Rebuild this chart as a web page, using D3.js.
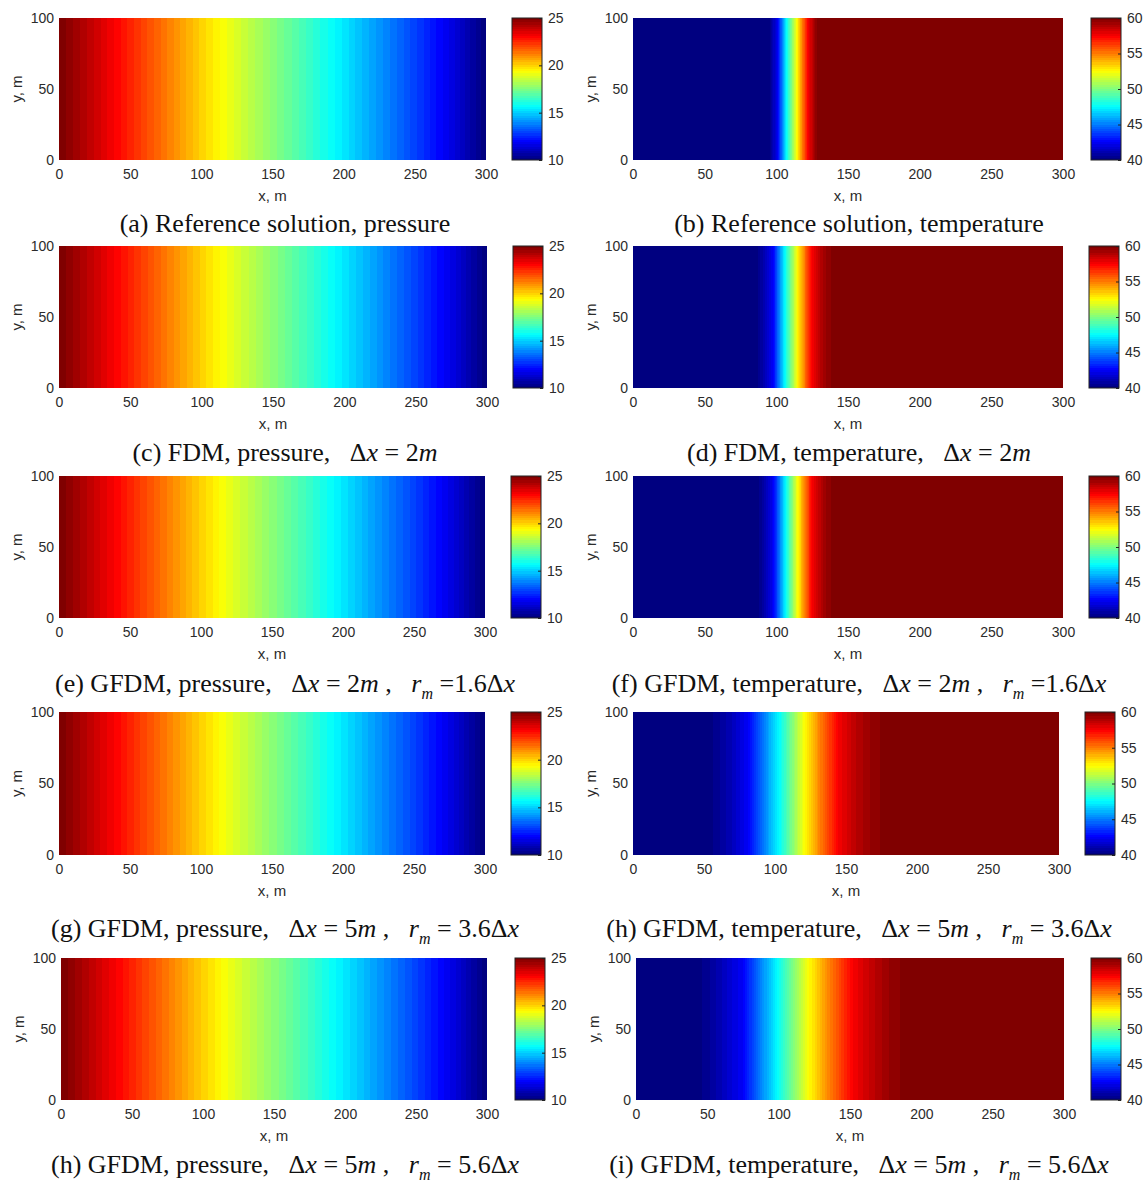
<!DOCTYPE html>
<html>
<head>
<meta charset="utf-8">
<script src="https://cdn.jsdelivr.net/npm/d3@7"></script>
<style>
  body { margin: 0; background: #fff; }
  svg { display: block; }
</style>
</head>
<body>
<div id="container"></div>
<script>
// Velikost obrazku
const width = 1146;
const height = 1182;

// Popisky os
const xTicks = [0, 50, 100, 150, 200, 250, 300];
const yTicks = [0, 50, 100];
const pressureTicks = [10, 15, 20, 25];
const temperatureTicks = [40, 45, 50, 55, 60];
const pressureRange = [10, 25];
const temperatureRange = [40, 60];

// Tlak - profil podel x (vsechny panely vypadaji stejne)
const pressureX = [0, 25, 50, 75, 100, 125, 150, 175, 200, 225, 250, 275, 300];
const pressureRef  = [25, 23.8, 22.56, 21.3, 20.0, 18.8, 17.65, 16.5, 15.33, 14.1, 12.9, 11.6, 10];
const pressureFDM  = [25, 23.8, 22.56, 21.3, 20.0, 18.8, 17.65, 16.5, 15.33, 14.1, 12.9, 11.6, 10];
const pressureG16  = [25, 23.8, 22.56, 21.3, 20.0, 18.8, 17.65, 16.5, 15.33, 14.1, 12.9, 11.6, 10];
const pressureG36  = [25, 23.8, 22.56, 21.3, 20.0, 18.8, 17.65, 16.5, 15.33, 14.1, 12.9, 11.6, 10];
const pressureG56  = [25, 23.8, 22.56, 21.3, 20.0, 18.8, 17.65, 16.5, 15.33, 14.1, 12.9, 11.6, 10];

// Teplota - profil podel x (celo teplotni fronty)
const tempRefX = [0, 95, 101, 107, 114.5, 122, 129, 300];
const tempRef  = [40, 40, 42.5, 47.5, 52.5, 57.5, 60, 60];
const tempFDMX = [0, 85, 91, 97.7, 106, 114.7, 124.7, 133, 142, 300];
const tempFDM  = [40, 40, 41, 42.5, 47.5, 52.5, 57.5, 59.2, 60, 60];
const tempG16X = [0, 86, 92, 98, 106.5, 115, 125, 133, 142, 300];
const tempG16  = [40, 40, 41, 42.5, 47.5, 52.5, 57.5, 59.2, 60, 60];
const tempG36X = [0, 50, 60, 70, 81, 92, 103, 112, 121, 132, 144.5, 155, 167, 181, 300];
const tempG36  = [40, 40, 40.5, 41.3, 42.5, 45, 47.5, 50, 52.5, 55, 57.5, 58.6, 59.4, 60, 60];
const tempG56X = [0, 40, 50, 62, 75, 87, 99, 110, 121.5, 136, 152, 165, 178, 192, 300];
const tempG56  = [40, 40, 40.5, 41.4, 42.5, 45, 47.5, 50, 52.5, 55, 57.5, 58.6, 59.4, 60, 60];

// Popisky panelu ("i" = kurziva, "sub" = dolni index)
const captions = [
  [["(a) Reference solution, pressure"]],
  [["(b) Reference solution, temperature"]],
  [["(c) FDM, pressure,   Δ"], ["x", "i"], [" = 2"], ["m", "i"]],
  [["(d) FDM, temperature,   Δ"], ["x", "i"], [" = 2"], ["m", "i"]],
  [["(e) GFDM, pressure,   Δ"], ["x", "i"], [" = 2"], ["m", "i"], [" ,   "], ["r", "i"], ["m", "sub"], [" =1.6Δ"], ["x", "i"]],
  [["(f) GFDM, temperature,   Δ"], ["x", "i"], [" = 2"], ["m", "i"], [" ,   "], ["r", "i"], ["m", "sub"], [" =1.6Δ"], ["x", "i"]],
  [["(g) GFDM, pressure,   Δ"], ["x", "i"], [" = 5"], ["m", "i"], [" ,   "], ["r", "i"], ["m", "sub"], [" = 3.6Δ"], ["x", "i"]],
  [["(h) GFDM, temperature,   Δ"], ["x", "i"], [" = 5"], ["m", "i"], [" ,   "], ["r", "i"], ["m", "sub"], [" = 3.6Δ"], ["x", "i"]],
  [["(h) GFDM, pressure,   Δ"], ["x", "i"], [" = 5"], ["m", "i"], [" ,   "], ["r", "i"], ["m", "sub"], [" = 5.6Δ"], ["x", "i"]],
  [["(i) GFDM, temperature,   Δ"], ["x", "i"], [" = 5"], ["m", "i"], [" ,   "], ["r", "i"], ["m", "sub"], [" = 5.6Δ"], ["x", "i"]]
];

// Data jednotlivych panelu (poradi: a, b, c, d, e, f, g, h, h, i)
const series = [
  { xs: pressureX, vs: pressureRef, kind: "p" },
  { xs: tempRefX,  vs: tempRef,     kind: "t" },
  { xs: pressureX, vs: pressureFDM, kind: "p" },
  { xs: tempFDMX,  vs: tempFDM,     kind: "t" },
  { xs: pressureX, vs: pressureG16, kind: "p" },
  { xs: tempG16X,  vs: tempG16,     kind: "t" },
  { xs: pressureX, vs: pressureG36, kind: "p" },
  { xs: tempG36X,  vs: tempG36,     kind: "t" },
  { xs: pressureX, vs: pressureG56, kind: "p" },
  { xs: tempG56X,  vs: tempG56,     kind: "t" }
];

// Rozlozeni (pixely)
const rows = [
  { t: 18,  b: 160,  cap: 224,  L: { l: 59, r: 486, cb: 512 }, R: { l: 633, r: 1063, cb: 1091 } },
  { t: 246, b: 388,  cap: 453,  L: { l: 59, r: 487, cb: 513 }, R: { l: 633, r: 1063, cb: 1089 } },
  { t: 476, b: 618,  cap: 684,  L: { l: 59, r: 485, cb: 511 }, R: { l: 633, r: 1063, cb: 1089 } },
  { t: 712, b: 855,  cap: 929,  L: { l: 59, r: 485, cb: 511 }, R: { l: 633, r: 1059, cb: 1085 } },
  { t: 958, b: 1100, cap: 1165, L: { l: 61, r: 487, cb: 515 }, R: { l: 636, r: 1064, cb: 1091 } }
];
const cbWidth = 30;
const capCenter = [285, 859];
const sans = "'Liberation Sans', Arial, Helvetica, sans-serif";
const serif = "'Liberation Serif', 'Times New Roman', serif";
const textColor = "#2b2b2b";

// Barevna mapa jet (64 barev jako v MATLABu)
const jet = d3.scaleLinear()
  .domain([0, 0.125, 0.375, 0.625, 0.875, 1])
  .range(["#000080", "#0000ff", "#00ffff", "#ffff00", "#ff0000", "#800000"])
  .clamp(true);
const nColors = 64;
function colorIndex(v, lo, hi) {
  const i = Math.floor((v - lo) / (hi - lo) * nColors);
  return Math.max(0, Math.min(nColors - 1, i));
}

const svg = d3.create("svg")
  .attr("width", width)
  .attr("height", height)
  .attr("viewBox", [0, 0, width, height]);

// Gradient pro barevnou skalu - ostre prechody mezi 64 barvami (zdola nahoru)
const defs = svg.append("defs");
const grad = defs.append("linearGradient")
  .attr("id", "jetbar")
  .attr("x1", 0).attr("y1", 1).attr("x2", 0).attr("y2", 0);
d3.range(nColors).forEach(i => {
  grad.append("stop").attr("offset", i / nColors).attr("stop-color", jet(i / (nColors - 1)));
  grad.append("stop").attr("offset", (i + 1) / nColors).attr("stop-color", jet(i / (nColors - 1)));
});

series.forEach((s, k) => {
  const row = rows[Math.floor(k / 2)];
  const pos = k % 2 === 0 ? row.L : row.R;
  const [lo, hi] = s.kind === "p" ? pressureRange : temperatureRange;
  const cbTicks = s.kind === "p" ? pressureTicks : temperatureTicks;

  const x = d3.scaleLinear().domain([0, 300]).range([pos.l, pos.r]);
  const y = d3.scaleLinear().domain([0, 100]).range([row.b, row.t]);
  const profile = d3.scaleLinear().domain(s.xs).range(s.vs);

  // Pole - sloupce pixelu, barva podle hodnoty v danem x
  const runs = [];
  for (let px = pos.l; px < pos.r; px++) {
    const ci = colorIndex(profile(x.invert(px + 0.5)), lo, hi);
    const last = runs[runs.length - 1];
    if (last && last.ci === ci) last.x1 = px + 1;
    else runs.push({ ci, x0: px, x1: px + 1 });
  }
  svg.append("g")
    .attr("shape-rendering", "crispEdges")
    .selectAll("rect")
    .data(runs)
    .join("rect")
      .attr("x", d => d.x0)
      .attr("y", y(100))
      .attr("width", d => d.x1 - d.x0)
      .attr("height", y(0) - y(100))
      .attr("fill", d => jet(d.ci / (nColors - 1)));

  // Osa X
  const gx = svg.append("g")
    .attr("transform", `translate(0,${row.b})`)
    .call(d3.axisBottom(x).tickValues(xTicks).tickSize(0).tickPadding(9));
  gx.select(".domain").remove();
  gx.selectAll("text").attr("fill", textColor).style("font-family", sans).style("font-size", "14px");

  // Osa Y
  const gy = svg.append("g")
    .attr("transform", `translate(${pos.l},0)`)
    .call(d3.axisLeft(y).tickValues(yTicks).tickSize(0).tickPadding(5));
  gy.select(".domain").remove();
  gy.selectAll("text").attr("fill", textColor).style("font-family", sans).style("font-size", "14px");

  // Nazvy os
  svg.append("text")
    .attr("x", (pos.l + pos.r) / 2)
    .attr("y", row.b + 41)
    .attr("text-anchor", "middle")
    .attr("fill", textColor)
    .style("font-family", sans)
    .style("font-size", "15px")
    .text("x, m");
  svg.append("text")
    .attr("transform", `translate(${pos.l - 37},${(row.t + row.b) / 2}) rotate(-90)`)
    .attr("text-anchor", "middle")
    .attr("fill", textColor)
    .style("font-family", sans)
    .style("font-size", "15px")
    .text("y, m");

  // Barevna skala
  const cb = d3.scaleLinear().domain([lo, hi]).range([row.b, row.t]);
  svg.append("rect")
    .attr("x", pos.cb)
    .attr("y", cb(hi))
    .attr("width", cbWidth)
    .attr("height", cb(lo) - cb(hi))
    .attr("fill", "url(#jetbar)")
    .attr("stroke", "#222")
    .attr("stroke-width", 1);
  const gc = svg.append("g")
    .attr("transform", `translate(${pos.cb + cbWidth},0)`)
    .call(d3.axisRight(cb).tickValues(cbTicks).tickSize(-3).tickPadding(6));
  gc.select(".domain").remove();
  gc.selectAll("line").attr("stroke", "#222");
  gc.selectAll("text").attr("fill", textColor).style("font-family", sans).style("font-size", "14px");

  // Popisek panelu
  const cap = svg.append("text")
    .attr("x", capCenter[k % 2])
    .attr("y", row.cap + 8)
    .attr("text-anchor", "middle")
    .attr("fill", "#111")
    .style("font-family", serif)
    .style("font-size", "26px")
    .style("white-space", "pre");
  let shifted = false;
  captions[k].forEach(([str, st]) => {
    const ts = cap.append("tspan").text(str);
    if (st === "i" || st === "sub") ts.style("font-style", "italic");
    if (st === "sub") {
      ts.style("font-size", "16px").attr("dy", 7);
      shifted = true;
    } else if (shifted) {
      ts.attr("dy", -7);
      shifted = false;
    }
  });
});

container.append(svg.node());
</script>
</body>
</html>
